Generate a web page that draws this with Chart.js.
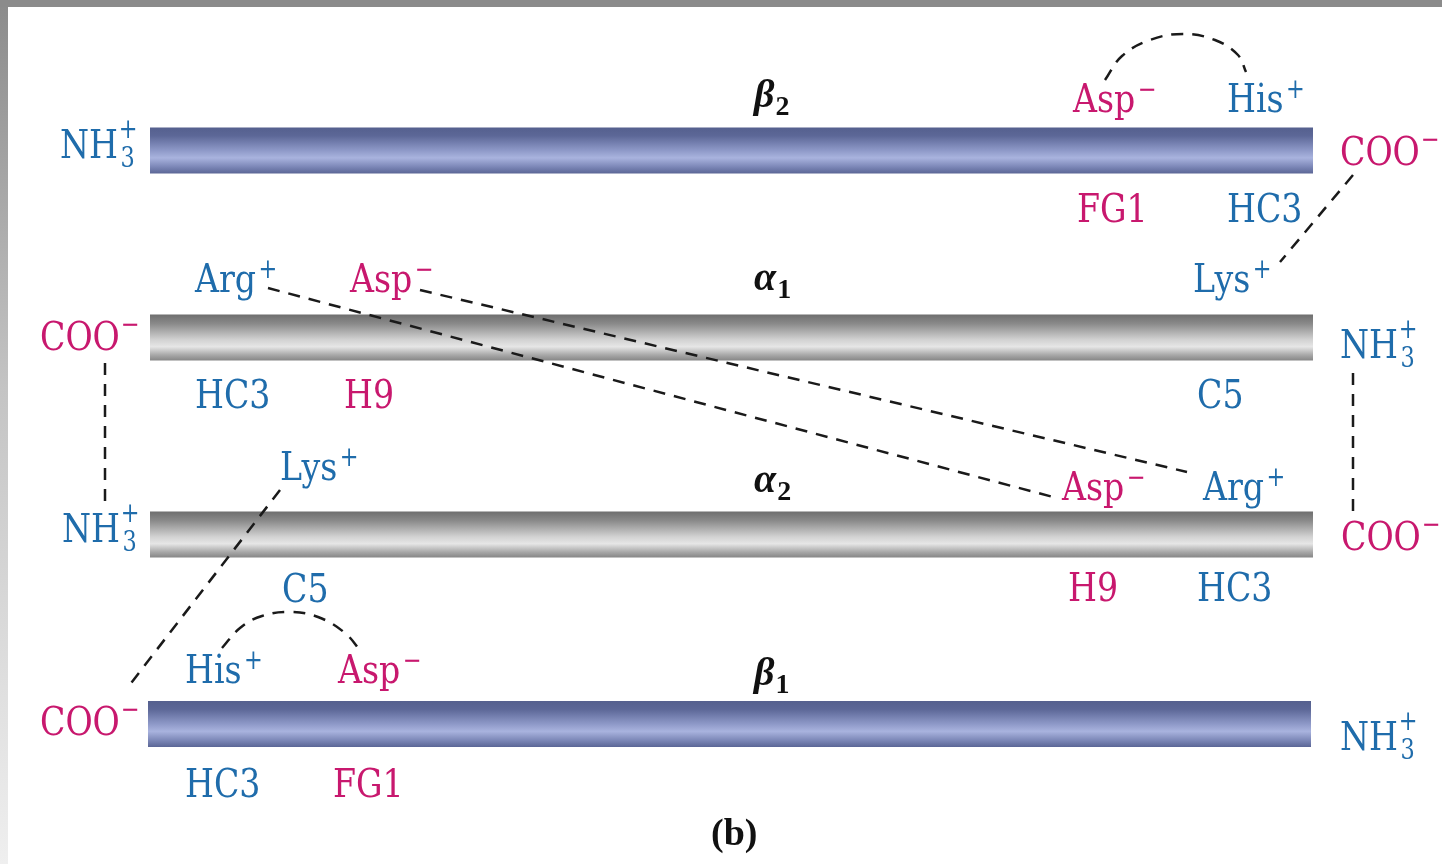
<!DOCTYPE html>
<html>
<head>
<meta charset="utf-8">
<title>Pontes salinas - desoxi-hemoglobina (b)</title>
<script src="https://cdn.jsdelivr.net/npm/chart.js@4/dist/chart.umd.min.js"></script>
<style>
  body { margin: 0; background: #fff; overflow: hidden; }
  canvas { display: block; }
</style>
</head>
<body>
<canvas id="chartPontes" width="1442" height="864"></canvas>
<script>
// ----------- DADOS ----------- //

// helices (subunidades)
let helicesNome = ['β', 'α', 'α', 'β'];
let helicesSub = ['2', '1', '2', '1'];
let helicesTipo = ['beta', 'alpha', 'alpha', 'beta'];
let helicesY = [150.5, 337.5, 534.5, 724];
let helicesIni = [150, 150, 150, 148];
let helicesFim = [1313, 1313, 1313, 1311];
let nomeX = [754, 754, 754, 754];
let nomeY = [107, 290, 492, 685];

// residuos
let residuosTexto = ['Asp', 'His', 'FG1', 'HC3', 'Arg', 'Asp', 'Lys', 'HC3', 'H9', 'C5',
                     'Lys', 'Asp', 'Arg', 'C5', 'H9', 'HC3', 'His', 'Asp', 'HC3', 'FG1'];
let residuosCarga = ['−', '+', '', '', '+', '−', '+', '', '', '',
                     '+', '−', '+', '', '', '', '+', '−', '', ''];
let residuosCor = ['n', 'p', 'n', 'p', 'p', 'n', 'p', 'p', 'n', 'p',
                   'p', 'n', 'p', 'p', 'n', 'p', 'p', 'n', 'p', 'n'];
let residuosX = [1073, 1227, 1077, 1227, 195, 350, 1193, 195, 344, 1197,
                 280, 1062, 1203, 282, 1068, 1197, 185, 338, 185, 333];
let residuosY = [112, 112, 222, 222, 292, 292, 292, 408, 408, 408,
                 480, 500, 500, 602, 601, 601, 683, 683, 797, 797];

// terminais
let nTermX = [60, 1340, 62, 1340];
let nTermY = [158, 358, 542, 750];
let cTermX = [1340, 40, 1341, 40];
let cTermY = [165, 350, 550, 735];

// ligacoes tracejadas (pontes salinas)
let ligX = [
  [1105, 1122, 1150, 1183, 1215, 1238, 1246],
  [1353, 1280],
  [268, 1053],
  [420, 1187],
  [105, 105],
  [1353, 1353],
  [280, 128],
  [222, 240, 262, 290, 318, 345, 362]
];
let ligY = [
  [80, 56, 40, 34, 40, 55, 72],
  [175, 262],
  [288, 497],
  [290, 472],
  [363, 502],
  [373, 512],
  [490, 687],
  [648, 628, 616, 612, 617, 633, 653]
];

let azul = '#1f6cab';
let magenta = '#c8186e';
let fonte = '"DejaVu Serif"';

// ----------- GRADIENTE DAS HELICES ----------- //
function gradiente(context) {
  let chart = context.chart;
  let i = context.dataset.hIdx;
  if (!chart.chartArea) return '#888';
  let y = chart.scales.y.getPixelForValue(helicesY[i]);
  let g = chart.ctx.createLinearGradient(0, y - 23, 0, y + 23);
  if (helicesTipo[i] == 'beta') {
    g.addColorStop(0, '#55608e');
    g.addColorStop(0.18, '#5c6797');
    g.addColorStop(0.5, '#8e99c8');
    g.addColorStop(0.66, '#a9b3de');
    g.addColorStop(0.85, '#7d88b8');
    g.addColorStop(1, '#5b6696');
  } else {
    g.addColorStop(0, '#6e6e6e');
    g.addColorStop(0.2, '#8a8a8a');
    g.addColorStop(0.55, '#d2d2d2');
    g.addColorStop(0.7, '#e6e6e6');
    g.addColorStop(0.88, '#a8a8a8');
    g.addColorStop(1, '#868686');
  }
  return g;
}

let datasets = [];
helicesY.forEach(function (y, i) {
  datasets.push({
    hIdx: i,
    data: [{ x: helicesIni[i], y: y }, { x: helicesFim[i], y: y }],
    showLine: true,
    borderWidth: 46,
    borderCapStyle: 'butt',
    borderColor: gradiente,
    pointRadius: 0,
    order: 2
  });
});
ligX.forEach(function (xs, i) {
  datasets.push({
    data: xs.map(function (x, j) { return { x: x, y: ligY[i][j] }; }),
    showLine: true,
    borderWidth: 2.5,
    borderColor: '#1a1a1a',
    borderDash: [12, 9],
    tension: xs.length > 2 ? 0.4 : 0,
    pointRadius: 0,
    order: 1
  });
});

// ----------- TEXTOS ----------- //
function texto(ctx, s, x, y, cor, sup) {
  ctx.save();
  ctx.translate(x, y);
  ctx.scale(0.83, 1);
  ctx.fillStyle = cor;
  ctx.font = '40px ' + fonte;
  ctx.textBaseline = 'alphabetic';
  ctx.fillText(s, 0, 0);
  let w = ctx.measureText(s).width;
  if (sup) {
    ctx.font = '27px ' + fonte;
    ctx.fillText(sup, w + 3, -14);
  }
  ctx.restore();
  return w;
}

let pluginFundo = {
  id: 'fundo',
  beforeDraw: function (chart) {
    let ctx = chart.ctx;
    ctx.save();
    ctx.fillStyle = '#fff';
    ctx.fillRect(0, 0, chart.width, chart.height);
    let g = ctx.createLinearGradient(0, 0, 0, chart.height);
    g.addColorStop(0, '#8b8b8b');
    g.addColorStop(0.45, '#c4c4c4');
    g.addColorStop(1, '#efefef');
    ctx.fillStyle = g;
    ctx.fillRect(0, 0, 8, chart.height);
    ctx.fillStyle = '#8b8b8b';
    ctx.fillRect(0, 0, chart.width, 7);
    ctx.restore();
  }
};

let pluginRotulos = {
  id: 'rotulos',
  afterDatasetsDraw: function (chart) {
    let ctx = chart.ctx;
    let sx = chart.scales.x, sy = chart.scales.y;

    residuosTexto.forEach(function (t, i) {
      texto(ctx, t, sx.getPixelForValue(residuosX[i]), sy.getPixelForValue(residuosY[i]),
        residuosCor[i] == 'n' ? magenta : azul, residuosCarga[i]);
    });

    nTermX.forEach(function (x, i) {
      let px = sx.getPixelForValue(x), py = sy.getPixelForValue(nTermY[i]);
      let w = texto(ctx, 'NH', px, py, azul, '');
      ctx.save();
      ctx.translate(px, py);
      ctx.scale(0.83, 1);
      ctx.fillStyle = azul;
      ctx.font = '27px ' + fonte;
      ctx.fillText('+', w + 1, -20);
      ctx.fillText('3', w + 3, 9);
      ctx.restore();
    });

    cTermX.forEach(function (x, i) {
      let px = sx.getPixelForValue(x), py = sy.getPixelForValue(cTermY[i]);
      let w = texto(ctx, 'COO', px, py, magenta, '');
      ctx.save();
      ctx.translate(px, py);
      ctx.scale(0.83, 1);
      ctx.fillStyle = magenta;
      ctx.font = '27px ' + fonte;
      ctx.fillText('−', w + 1, -17);
      ctx.restore();
    });

    helicesNome.forEach(function (n, i) {
      let px = sx.getPixelForValue(nomeX[i]), py = sy.getPixelForValue(nomeY[i]);
      ctx.save();
      ctx.fillStyle = '#111';
      ctx.font = 'italic bold 40px "Liberation Serif"';
      ctx.fillText(n, px, py);
      let w = ctx.measureText(n).width;
      ctx.font = 'bold 28px "Liberation Serif"';
      ctx.fillText(helicesSub[i], px + w + 1, py + 8);
      ctx.restore();
    });

    ctx.save();
    ctx.fillStyle = '#111';
    ctx.font = 'bold 38px "Liberation Serif"';
    ctx.fillText('(b)', sx.getPixelForValue(711), sy.getPixelForValue(845));
    ctx.restore();
  }
};

let ctx = document.getElementById('chartPontes');

let meuGrafico = new Chart(ctx, {
  type: 'scatter',
  data: { datasets: datasets },
  options: {
    responsive: false,
    animation: false,
    layout: { padding: 0 },
    plugins: {
      legend: { display: false },
      tooltip: { enabled: false }
    },
    scales: {
      x: { type: 'linear', min: 0, max: 1442, display: false },
      y: { type: 'linear', min: 0, max: 864, reverse: true, display: false }
    }
  },
  plugins: [pluginFundo, pluginRotulos]
});
</script>
</body>
</html>
